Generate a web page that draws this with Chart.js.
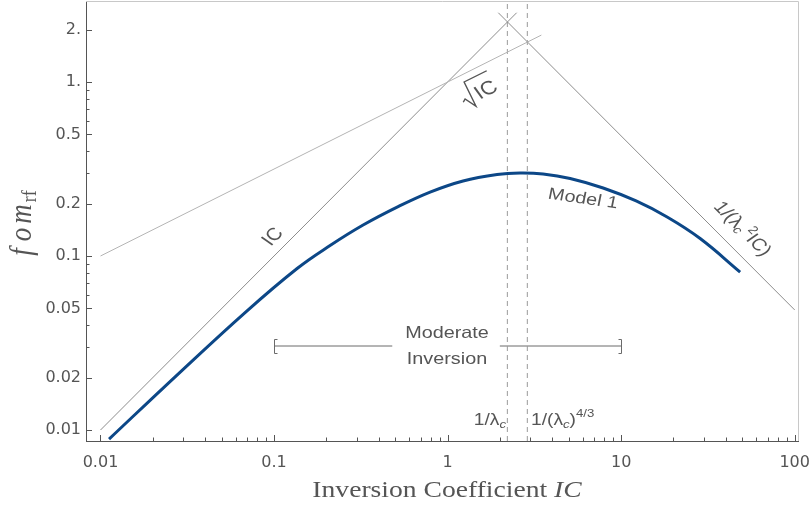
<!DOCTYPE html>
<html>
<head>
<meta charset="utf-8">
<script src="https://cdn.jsdelivr.net/npm/chart.js@4"></script>
<style>
  html,body{margin:0;padding:0;background:#fff;}
  #c{display:block;}
</style>
</head>
<body>
<canvas id="c" width="812" height="510"></canvas>
<script>
// ---------- data ----------
const xTickValues = [0.01, 0.1, 1, 10, 100];
const xTickLabels = ['0.01', '0.1', '1', '10', '100'];
const yTickValues = [0.01, 0.02, 0.05, 0.1, 0.2, 0.5, 1, 2];
const yTickLabels = ['0.01', '0.02', '0.05', '0.1', '0.2', '0.5', '1.', '2.'];
const yMinorTicks = [0.03, 0.04, 0.06, 0.07, 0.08, 0.09, 0.3, 0.4, 0.6, 0.7, 0.8, 0.9];

// Model 1 curve
const model1IC  = [0.0112, 0.0276, 0.0681, 0.1358, 0.2103, 0.326, 0.512, 0.793, 1.228, 1.929, 2.617, 3.551, 5.084, 7.876, 12.20, 18.41, 28.53, 48.5];
const model1Fom = [0.00887, 0.0207, 0.04735, 0.0848, 0.1149, 0.1507, 0.191, 0.233, 0.270, 0.2939, 0.2999, 0.2960, 0.2789, 0.2459, 0.2071, 0.1675, 0.1260, 0.0809];

// asymptote lines (end points)
const icLineX   = [0.01, 2.5];
const icLineY   = [0.01, 2.5];
const sqrtLineX = [0.01, 3.47];
const sqrtLineY = [0.1, 1.86];
const invLineX  = [1.96, 100];
const invLineY  = [2.5, 0.049];

// vertical dashed markers: 1/lambda_c and 1/lambda_c^(4/3)
const lambdaMarks = [2.21, 2.88];

// moderate inversion range bracket
const moderateRange = [0.1, 10];
const moderateGap   = [0.48, 2.0];
const moderateLevel = 0.0304;

const xMin = 0.00825, xMax = 104.5;
const yMin = 0.00865, yMax = 2.92;

// ---------- helpers ----------
const SX = 1.2; // horizontal text stretch
const TXT = '#555555';
function pts(xs, ys){ return xs.map((x,i)=>({x:x, y:ys[i]})); }

function richText(ctx, parts, cx, cy, angleDeg, align){
  ctx.save();
  ctx.translate(cx, cy);
  ctx.scale(SX, 1);
  const th = angleDeg*Math.PI/180;
  const phi = Math.abs(angleDeg) >= 89.9 ? th : Math.atan(SX*Math.tan(th));
  ctx.rotate(phi);
  ctx.textBaseline = 'middle';
  ctx.fillStyle = TXT;
  let total = 0;
  parts.forEach(p=>{ ctx.font = p.font; p.w = ctx.measureText(p.t).width + (p.gap||0); total += p.w; });
  let x = align === 'left' ? 0 : (align === 'right' ? -total : -total/2);
  parts.forEach(p=>{
    ctx.font = p.font;
    ctx.textAlign = 'left';
    ctx.fillText(p.t, x + (p.pre||0), p.dy||0);
    x += p.w;
  });
  ctx.restore();
}

const framePlugin = {
  id:'frame',
  afterDraw(chart){
    const {ctx, chartArea:a, scales:{x, y}} = chart;
    ctx.save();
    // light top/right frame
    ctx.strokeStyle = '#c8c8c8';
    ctx.lineWidth = 1;
    ctx.beginPath();
    ctx.moveTo(a.left, Math.round(a.top)+0.5);
    ctx.lineTo(Math.round(a.right)+0.5, Math.round(a.top)+0.5);
    ctx.lineTo(Math.round(a.right)+0.5, a.bottom);
    ctx.stroke();
    // inside ticks
    ctx.strokeStyle = '#555';
    ctx.beginPath();
    xTickValues.forEach(v=>{
      const px = Math.round(x.getPixelForValue(v))+0.5;
      ctx.moveTo(px, a.bottom); ctx.lineTo(px, a.bottom-6);
    });
    for (let d=0.01; d<99; d*=10){
      for (let k=2;k<=9;k++){
        const px = Math.round(x.getPixelForValue(d*k))+0.5;
        ctx.moveTo(px, a.bottom); ctx.lineTo(px, a.bottom-3.5);
      }
    }
    yTickValues.forEach(v=>{
      const py = Math.round(y.getPixelForValue(v))+0.5;
      ctx.moveTo(a.left, py); ctx.lineTo(a.left+6, py);
    });
    yMinorTicks.forEach(v=>{
      const py = Math.round(y.getPixelForValue(v))+0.5;
      ctx.moveTo(a.left, py); ctx.lineTo(a.left+3.5, py);
    });
    ctx.stroke();

    // bracket ends for moderate inversion
    ctx.strokeStyle = '#6a6a6a';
    ctx.beginPath();
    const by = Math.round(y.getPixelForValue(moderateLevel))+0.5;
    const bl = Math.round(x.getPixelForValue(moderateRange[0]))+0.5;
    const br = Math.round(x.getPixelForValue(moderateRange[1]))+0.5;
    ctx.moveTo(bl+3, by-7); ctx.lineTo(bl, by-7); ctx.lineTo(bl, by+7); ctx.lineTo(bl+3, by+7);
    ctx.moveTo(br-3, by-7); ctx.lineTo(br, by-7); ctx.lineTo(br, by+7); ctx.lineTo(br-3, by+7);
    ctx.stroke();

    // ---- annotations ----
    const F = (s, st) => (st||'') + ' ' + s + 'px "Liberation Sans", Arial, sans-serif';
    // IC
    richText(ctx, [{t:'IC', font:F(17.5)}], 273, 237, -45);
    // sqrt(IC)
    (function(){
      ctx.save();
      ctx.translate(479, 92);
      ctx.scale(SX,1);
      ctx.rotate(Math.atan(SX*Math.tan(-26.6*Math.PI/180)));
      ctx.font = F(19);
      const w = ctx.measureText('IC').width;
      const x0 = -(w+12)/2;
      ctx.strokeStyle = TXT; ctx.lineWidth = 1.2;
      ctx.beginPath();
      ctx.moveTo(x0-1, 2); ctx.lineTo(x0+2, 0); ctx.lineTo(x0+6, 11); ctx.lineTo(x0+10, -15); ctx.lineTo(x0+12+w+1, -15);
      ctx.stroke();
      ctx.fillStyle = TXT; ctx.textBaseline = 'alphabetic'; ctx.textAlign='left';
      ctx.fillText('IC', x0+12, 7);
      ctx.restore();
    })();
    // Model 1
    richText(ctx, [{t:'Model 1', font:F(16.5)}], 583, 199, 8);
    // 1/(lambda_c^2 IC)
    richText(ctx, [
      {t:'1/(', font:F(17)},
      {t:'λ', font:F(17)},
      {t:'c', font:F(11.5,'italic'), dy:4, gap:2},
      {t:'2', font:F(11.5), dy:-6},
      {t:'IC)', font:F(17)}
    ], 742, 229, 45);
    // 1/lambda_c
    richText(ctx, [
      {t:'1/λ', font:F(16)},
      {t:'c', font:F(11,'italic'), dy:4}
    ], 506, 421, 0, 'right');
    // 1/(lambda_c)^(4/3)
    richText(ctx, [
      {t:'1/(', font:F(16)},
      {t:'λ', font:F(16)},
      {t:'c', font:F(11,'italic'), dy:4},
      {t:')', font:F(16)},
      {t:'4/3', font:F(11), dy:-7}
    ], 531, 421, 0, 'left');
    // Moderate Inversion
    richText(ctx, [{t:'Moderate', font:F(16.5)}], 447, 333, 0);
    richText(ctx, [{t:'Inversion', font:F(16.5)}], 447, 359, 0);

    // axis titles
    const S = (s, st) => (st||'') + ' ' + s + 'px "Liberation Serif", "Times New Roman", serif';
    richText(ctx, [
      {t:'Inversion Coefficient ', font:S(23)},
      {t:'IC', font:S(23,'italic')}
    ], 447, 491, 0);
    richText(ctx, [
      {t:'f', font:S(27,'italic'), gap:7},
      {t:'o', font:S(27,'italic'), gap:4},
      {t:'m', font:S(27,'italic'), gap:2},
      {t:'rf', font:S(18), dy:7}
    ], 22, 223, -90);
    ctx.restore();
  }
};

const lineDs = (data, color, width, dash) => ({
  data, borderColor: color, borderWidth: width, borderDash: dash||[],
  showLine: true, pointRadius: 0, fill: false, tension: 0
});

const datasets = [
  lineDs(pts(sqrtLineX, sqrtLineY), '#b4b4b4', 1),
  lineDs(pts(icLineX, icLineY), '#8c8c8c', 1),
  lineDs(pts(invLineX, invLineY), '#8c8c8c', 1),
  ...lambdaMarks.map(v => lineDs([{x:v, y:yMin}, {x:v, y:yMax}], '#9a9a9a', 1, [5,4])),
  lineDs([{x:moderateRange[0], y:moderateLevel}, {x:moderateGap[0], y:moderateLevel}], '#6a6a6a', 1),
  lineDs([{x:moderateGap[1], y:moderateLevel}, {x:moderateRange[1], y:moderateLevel}], '#6a6a6a', 1),
  Object.assign(lineDs(pts(model1IC, model1Fom), '#0c4787', 3), {tension: 0.4, borderCapStyle: 'butt'})
];

const tickFont = {family:'"DejaVu Sans", sans-serif', size:16};

new Chart(document.getElementById('c'), {
  type: 'scatter',
  data: { datasets },
  options: {
    responsive: false,
    animation: false,
    devicePixelRatio: 1,
    layout: { padding: { top: 1, right: 14, left: 0, bottom: 0 } },
    plugins: { legend: { display: false }, tooltip: { enabled: false } },
    scales: {
      x: {
        type: 'logarithmic', min: xMin, max: xMax,
        grid: { display: false, drawTicks: false },
        border: { display: true, color: '#555', width: 1 },
        ticks: { autoSkip: false, maxRotation: 0, padding: 12, color: TXT, font: tickFont,
                 callback: (v, i) => xTickLabels[i] },
        afterBuildTicks: s => { s.ticks = xTickValues.map(v => ({value: v})); },
        afterFit: s => { s.height = 69; s.paddingLeft = 0; s.paddingRight = 0; }
      },
      y: {
        type: 'logarithmic', min: yMin, max: yMax,
        grid: { display: false, drawTicks: false },
        border: { display: true, color: '#555', width: 1 },
        ticks: { autoSkip: false, padding: 5, color: TXT, font: tickFont,
                 callback: (v, i) => yTickLabels[i] },
        afterBuildTicks: s => { s.ticks = yTickValues.map(v => ({value: v})); },
        afterFit: s => { s.width = 86; s.paddingTop = 0; s.paddingBottom = 0; }
      }
    }
  },
  plugins: [framePlugin]
});
</script>
</body>
</html>
